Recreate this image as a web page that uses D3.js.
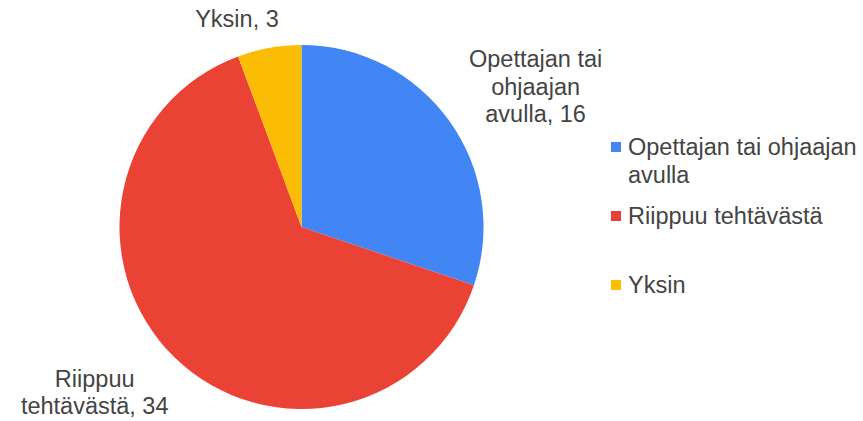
<!DOCTYPE html>
<html>
<head>
<meta charset="utf-8">
<script src="https://cdn.jsdelivr.net/npm/d3@7"></script>
<style>
  body { margin: 0; background: #fff; }
  svg { display: block; }
  text { font-family: Arial, "Liberation Sans", sans-serif; fill: #444; }
</style>
</head>
<body>
<svg id="pie-chart"></svg>
<script>
const categories = ["Opettajan tai ohjaajan avulla", "Riippuu tehtävästä", "Yksin"];
const values = [16, 34, 3];
const colors = ["#4285f4", "#ea4335", "#fbbc04"];
// slice labels, split into lines as in the picture
const sliceLabels = [
  ["Opettajan tai", "ohjaajan", "avulla, 16"],
  ["Riippuu", "tehtävästä, 34"],
  ["Yksin, 3"]
];
const legendLines = [["Opettajan tai ohjaajan", "avulla"], ["Riippuu tehtävästä"], ["Yksin"]];

const width = 863, height = 421;
const cx = 301.5, cy = 227, radius = 182;
const fontSize = 23.5, lineH = 27.5;

const svg = d3.select("#pie-chart")
  .attr("width", width)
  .attr("height", height);

const data = categories.map((c, i) => ({ name: c, value: values[i], color: colors[i], label: sliceLabels[i] }));

const pie = d3.pie().value(d => d.value).sort(null);
const arc = d3.arc().innerRadius(0).outerRadius(radius);
const arcs = pie(data);

const g = svg.append("g").attr("transform", `translate(${cx}, ${cy})`);

g.selectAll("path")
  .data(arcs)
  .join("path")
  .attr("d", arc)
  .attr("fill", d => d.data.color);

// outside labels: radius factor and angle shift (degrees) from each slice's mid angle
const labelRadius = [1.50, 1.455, 1.20];
const labelShift = [4.7, 7.2, -7];

arcs.forEach((d, i) => {
  const mid = (d.startAngle + d.endAngle) / 2 + labelShift[i] * Math.PI / 180;
  const r = radius * labelRadius[i];
  const x = r * Math.sin(mid);
  const y = -r * Math.cos(mid);
  const lines = d.data.label;
  const t = g.append("text")
    .attr("text-anchor", "middle")
    .attr("font-size", fontSize + "px");
  const y0 = y - (lines.length - 1) * lineH / 2;
  lines.forEach((ln, j) => {
    t.append("tspan")
      .attr("x", x)
      .attr("y", y0 + j * lineH)
      .attr("dy", "0.35em")
      .text(ln);
  });
});

// legend
const legendX = 611, legendTop = [147, 216, 285];
const legend = svg.append("g");
data.forEach((d, i) => {
  legend.append("rect")
    .attr("x", legendX)
    .attr("y", legendTop[i] - 5)
    .attr("width", 10)
    .attr("height", 10)
    .attr("fill", d.color);
  const t = legend.append("text")
    .attr("font-size", fontSize + "px");
  legendLines[i].forEach((ln, j) => {
    t.append("tspan")
      .attr("x", legendX + 17)
      .attr("y", legendTop[i] + j * lineH)
      .attr("dy", "0.35em")
      .text(ln);
  });
});
</script>
</body>
</html>
